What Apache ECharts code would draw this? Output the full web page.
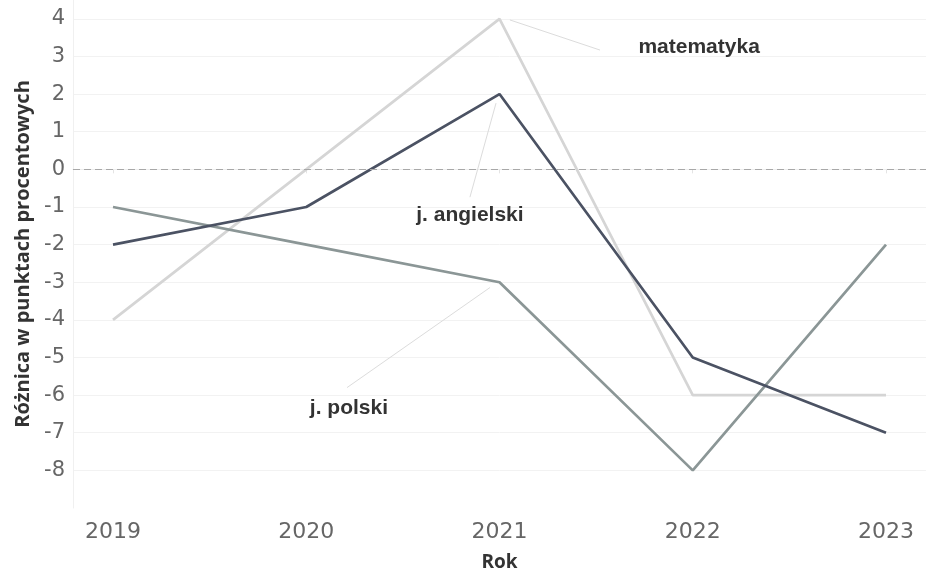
<!DOCTYPE html>
<html><head><meta charset="utf-8">
<script src="https://cdn.jsdelivr.net/npm/echarts@6/dist/echarts.min.js"></script>
<style>html,body{margin:0;padding:0;background:#fff}#c{width:926px;height:574px}</style>
</head><body><div id="c"></div>
<script>
// ---- data ----
const years = [2019, 2020, 2021, 2022, 2023];
const matematyka = [-4, 0, 4, -6, -6];
const angielski = [-2, -1, 2, -5, -7];
const polski = [-1, -2, -3, -8, -2];
const yTickLabels = [-8, -7, -6, -5, -4, -3, -2, -1, 0, 1, 2, 3, 4];
const seriesNames = ['matematyka', 'j. angielski', 'j. polski'];
const axisNameY = 'Różnica w punktach procentowych';
const axisNameX = 'Rok';

// ---- annotation placement (data coordinates) ----
const annotationText = seriesNames;
const annotationCenter = [[2022.033, 3.245], [2020.847, -1.21], [2020.221, -6.35]];
const leaderFrom = [[2021.054, 3.97], [2020.982, 1.76], [2020.951, -3.14]];
const leaderTo = [[2021.520, 3.17], [2020.847, -0.74], [2020.211, -5.80]];

const colors = ['#d5d5d5', '#4b5263', '#8b9696'];
const values = [matematyka, angielski, polski];

const chart = echarts.init(document.getElementById('c'), null, {renderer: 'canvas'});

const lineSeries = seriesNames.map((n, i) => ({
  name: n,
  type: 'line',
  data: years.map((y, j) => [y, values[i][j]]),
  symbol: 'none',
  lineStyle: {color: colors[i], width: 2.7},
  itemStyle: {color: colors[i]},
  z: 3 + (i === 1 ? 1 : 0)
}));

const annotationSeries = {
  type: 'line',
  data: [],
  silent: true,
  z: 2,
  markLine: {
    silent: true,
    symbol: ['none', 'none'],
    label: {show: false},
    animation: false,
    data: [
      {yAxis: 0, lineStyle: {color: '#a8a8a8', type: [7, 4], width: 1.2}},
      ...leaderFrom.map((f, i) => [
        {coord: f, lineStyle: {color: '#dcdcdc', type: 'solid', width: 1}},
        {coord: leaderTo[i]}
      ])
    ]
  },
  markPoint: {
    silent: true,
    symbolSize: 0,
    animation: false,
    label: {
      show: true,
      position: 'inside',
      fontFamily: 'Liberation Sans',
      fontWeight: 'bold',
      fontSize: 21,
      color: '#333333'
    },
    data: annotationText.map((t, i) => ({
      coord: annotationCenter[i],
      value: t,
      label: {formatter: t}
    }))
  }
};

chart.setOption({
  animation: false,
  backgroundColor: '#ffffff',
  grid: {left: 73, right: 0, top: 0, bottom: 66, containLabel: false, outerBoundsMode: 'none'},
  xAxis: {
    type: 'value',
    min: 2018.793,
    max: 2023.207,
    name: axisNameX,
    nameLocation: 'middle',
    nameGap: 45,
    nameTextStyle: {fontFamily: 'Open Sans', fontWeight: 'bold', fontSize: 19, color: '#333'},
    axisLine: {show: true, lineStyle: {color: '#eeeeee', width: 1}},
    axisTick: {show: true, customValues: years, length: 4, lineStyle: {color: '#e4e4e4'}},
    axisLabel: {
      customValues: years,
      fontFamily: 'DejaVu Sans',
      fontSize: 22,
      color: '#666666',
      margin: 13,
      formatter: v => String(v)
    },
    splitLine: {show: false}
  },
  yAxis: {
    type: 'value',
    min: -9,
    max: 4.5,
    interval: 1,
    name: axisNameY,
    nameLocation: 'middle',
    nameGap: 37,
    nameRotate: 90,
    nameTextStyle: {fontFamily: 'Open Sans', fontWeight: 'bold', fontSize: 20, color: '#333'},
    axisLine: {show: true, lineStyle: {color: '#f0f0f0', width: 1}},
    axisTick: {show: false},
    axisLabel: {
      fontFamily: 'DejaVu Sans',
      fontSize: 21,
      color: '#666666',
      margin: 8,
      formatter: v => (yTickLabels.indexOf(v) >= 0 ? String(v) : '')
    },
    splitLine: {show: true, showMinLine: false, showMaxLine: false, lineStyle: {color: '#f2f2f2', width: 1}}
  },
  series: [annotationSeries, ...lineSeries]
});
</script>
</body></html>
